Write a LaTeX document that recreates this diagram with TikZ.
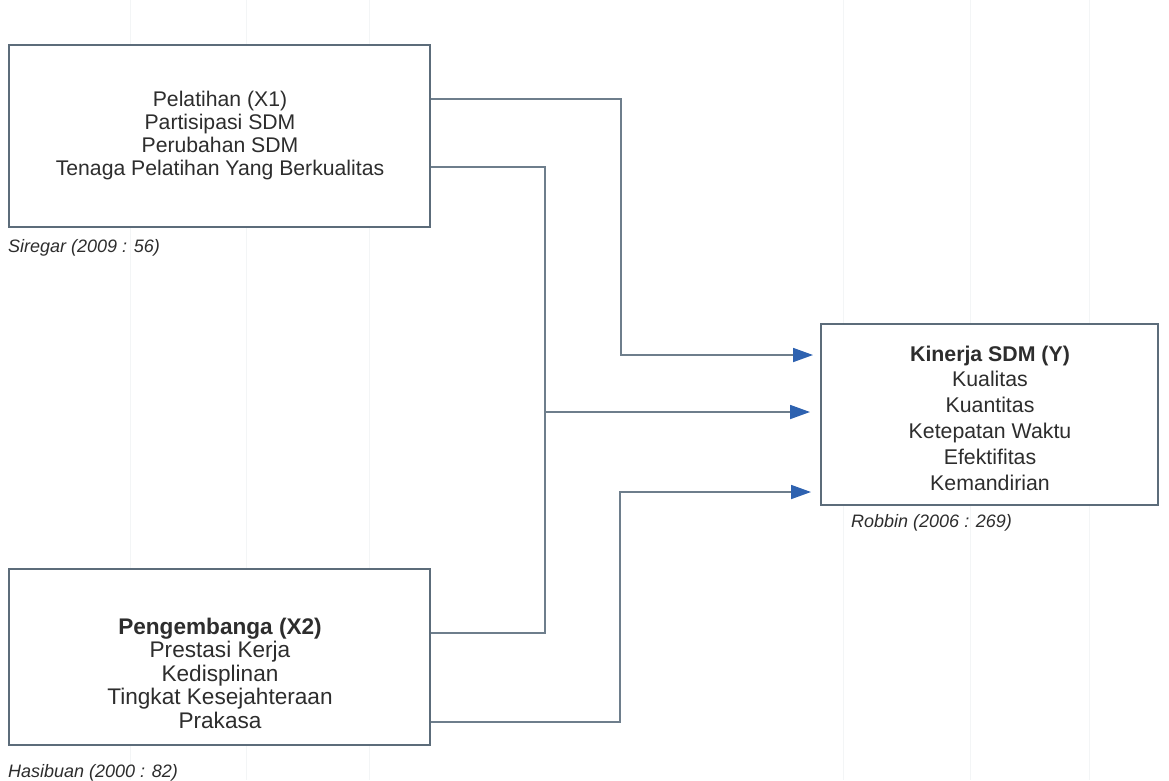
\documentclass[tikz,border=0pt]{standalone}
\usepackage{fontspec}
\setmainfont{Liberation Sans}
\usetikzlibrary{arrows.meta}
\definecolor{boxline}{RGB}{92,108,122}
\definecolor{connline}{RGB}{110,126,140}
\definecolor{arrowblue}{RGB}{46,98,176}
\definecolor{txt}{RGB}{45,45,45}
\definecolor{gridc}{RGB}{243,245,246}
\tikzset{
  varbox/.style={draw=boxline, line width=1.8pt, fill=white, inner sep=0pt},
  boxtext/.style={align=center, text=txt, inner sep=0pt},
  cite/.style={anchor=west, text=txt, inner sep=0pt, font=\fontsize{18}{19}\selectfont\itshape},
  conn/.style={draw=connline, line width=1.8pt},
  arr/.style={conn, -{Triangle[length=20pt,width=14pt,color=arrowblue]}},
  gridline/.style={draw=gridc, line width=1pt}
}
\begin{document}
\begin{tikzpicture}[x=1pt,y=-1pt]
\useasboundingbox[fill=white] (0,0) rectangle (1169,780);
% faint background grid
\foreach \gx in {130,246,369,843,970,1089}{
  \draw[gridline] (\gx,0) -- (\gx,780);
}
% boxes
\node[varbox, minimum width=421pt, minimum height=182pt] (x1) at (219.5,136) {};
\node[varbox, minimum width=421pt, minimum height=176pt] (x2) at (219.5,657) {};
\node[varbox, minimum width=337pt, minimum height=181pt] (y) at (989.5,414.5) {};
% texts
\node[boxtext, font=\fontsize{21.2}{23}\selectfont] (t1) at (220,136)
  {Pelatihan (X1)\\Partisipasi SDM\\Perubahan SDM\\Tenaga Pelatihan Yang Berkualitas};
\node[boxtext, font=\fontsize{22.6}{23.5}\selectfont] (t2) at (220,673)
  {\textbf{Pengembanga (X2)}\\Prestasi Kerja\\Kedisplinan\\Tingkat Kesejahteraan\\Prakasa};
\node[boxtext, font=\fontsize{21.3}{25.8}\selectfont] (t3) at (990,418)
  {\textbf{Kinerja SDM (Y)}\\Kualitas\\Kuantitas\\Ketepatan Waktu\\Efektifitas\\Kemandirian};
% citations
\node[cite] (c1) at (8,248) {Siregar (2009 : 56)};
\node[cite] (c2) at (851,523) {Robbin (2006 : 269)};
\node[cite] (c3) at (8,773) {Hasibuan (2000 : 82)};
% connector coordinates
\coordinate (a1) at (621,99);
\coordinate (ta) at (813,355);
\coordinate (b1) at (545,167);
\coordinate (b2) at (545,633);
\coordinate (bm) at (545,412);
\coordinate (tb) at (810,412);
\coordinate (c1p) at (620,722);
\coordinate (tc) at (811,492);
% connectors
\draw[arr] (a1 -| x1.east) -- (a1) |- (ta);
\draw[conn] (b1 -| x1.east) -- (b1) -- (b2) -- (b2 -| x2.east);
\draw[arr] (bm) -- (tb);
\draw[arr] (c1p -| x2.east) -- (c1p) |- (tc);
\end{tikzpicture}
\end{document}
